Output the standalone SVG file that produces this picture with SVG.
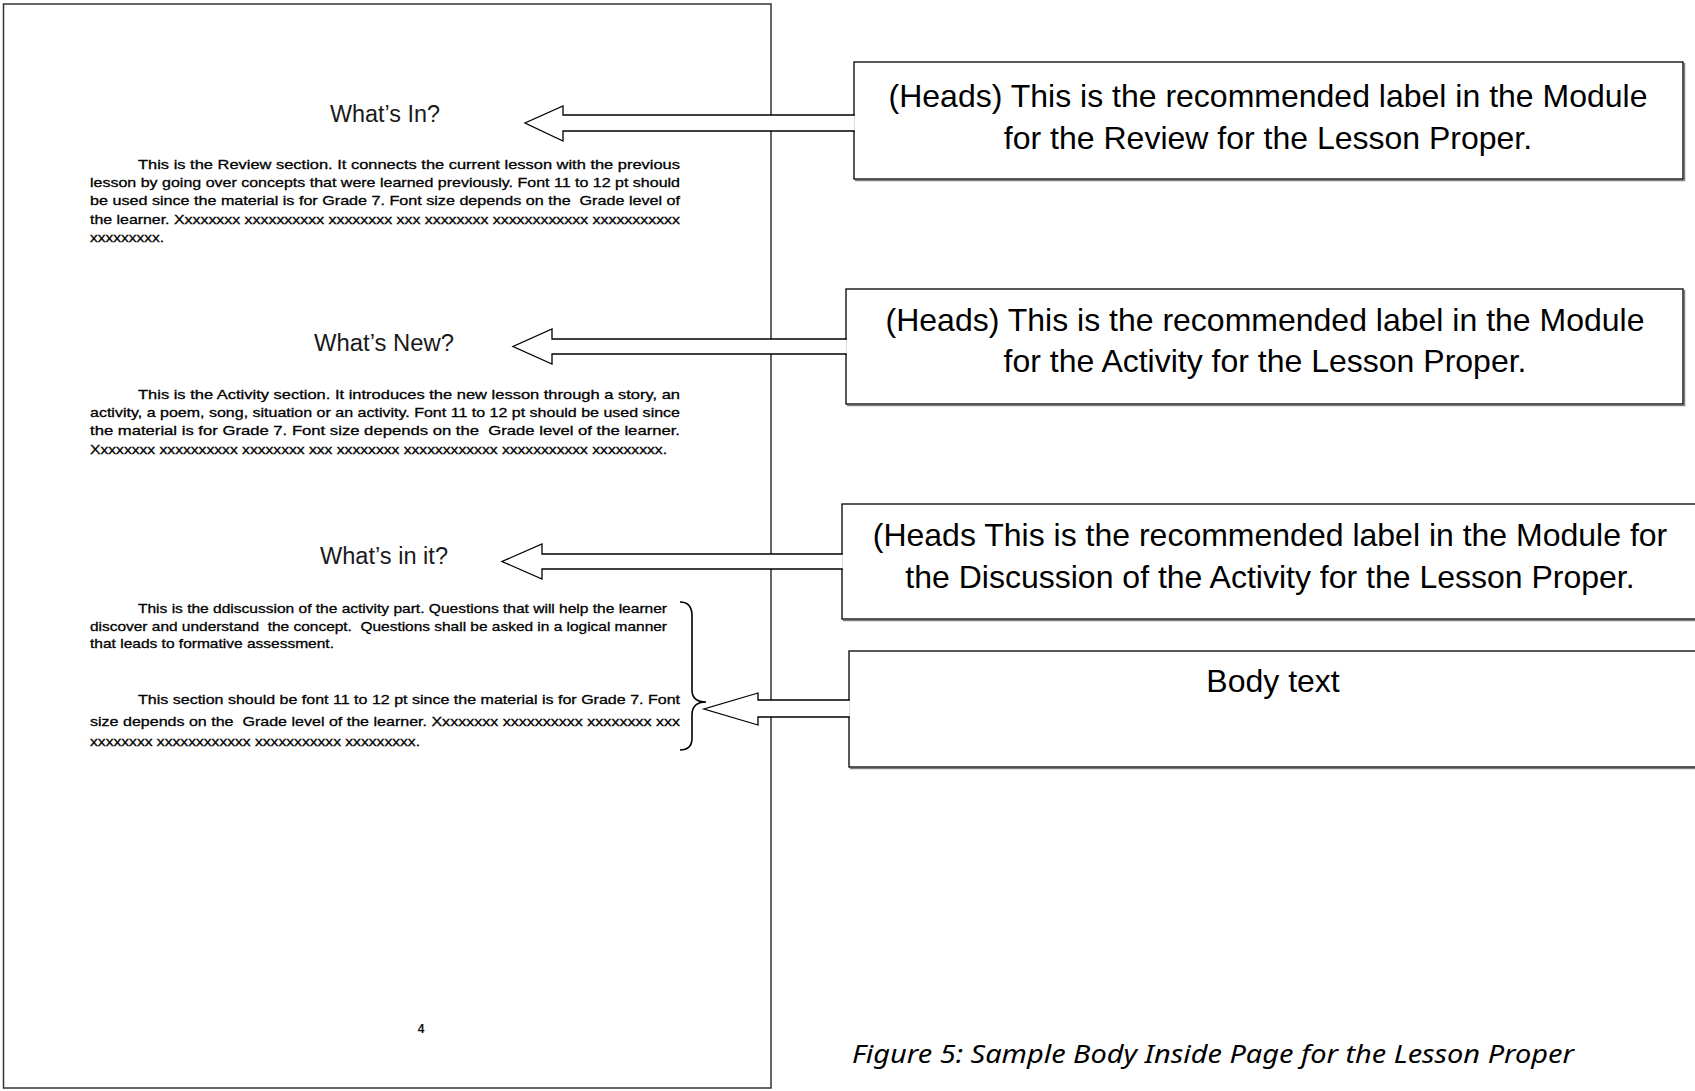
<svg xmlns="http://www.w3.org/2000/svg" width="1695" height="1091" viewBox="0 0 1695 1091">
<style>
.pg{fill:#fff;stroke:#333;stroke-width:1.5}
.shadow{fill:none;stroke:#808080;stroke-width:1.5}
.box{fill:#fff;stroke:#000;stroke-width:1.3}
.arrow{fill:#fff;stroke:#000;stroke-width:1.3;stroke-linejoin:miter}
.brace{fill:none;stroke:#000;stroke-width:1.6}
.head{font-family:"Liberation Sans",Arial,sans-serif;font-size:23px;fill:#1a1a1a;text-anchor:middle}
.body{font-family:"Liberation Sans",Arial,sans-serif;font-size:13.5px;fill:#000;stroke:#000;stroke-width:0.3;white-space:pre}
.lbl{font-family:"Liberation Sans",Arial,sans-serif;font-size:32px;fill:#000;text-anchor:middle}
.num{font-family:"Liberation Sans",Arial,sans-serif;font-size:12px;font-weight:bold;fill:#111;text-anchor:middle}
.cap{font-family:"Noto Sans","Open Sans",sans-serif;font-size:26px;font-style:italic;fill:#000}
</style>
<rect width="1695" height="1091" fill="#fff"/>
<g id="page">
<rect class="pg" x="3.5" y="4" width="767.5" height="1084"/>
<text class="num" x="421" y="1033">4</text>
</g>
<g id="head-whats-in"><text class="head" x="385" y="122" textLength="110" lengthAdjust="spacingAndGlyphs">What’s In?</text></g>
<g id="para-review">
<text class="body" x="138" y="169" textLength="542" lengthAdjust="spacingAndGlyphs">This is the Review section. It connects the current lesson with the previous</text>
<text class="body" x="90" y="187" textLength="590" lengthAdjust="spacingAndGlyphs">lesson by going over concepts that were learned previously. Font 11 to 12 pt should</text>
<text class="body" x="90" y="205" textLength="590" lengthAdjust="spacingAndGlyphs">be used since the material is for Grade 7. Font size depends on the  Grade level of</text>
<text class="body" x="90" y="224" textLength="590" lengthAdjust="spacingAndGlyphs">the learner. Xxxxxxxx xxxxxxxxxx xxxxxxxx xxx xxxxxxxx xxxxxxxxxxxx xxxxxxxxxxx</text>
<text class="body" x="90" y="242" textLength="74" lengthAdjust="spacingAndGlyphs">xxxxxxxxx.</text>
</g>
<g id="head-whats-new"><text class="head" x="384" y="351" textLength="140" lengthAdjust="spacingAndGlyphs">What’s New?</text></g>
<g id="para-activity">
<text class="body" x="138" y="399" textLength="542" lengthAdjust="spacingAndGlyphs">This is the Activity section. It introduces the new lesson through a story, an</text>
<text class="body" x="90" y="417" textLength="590" lengthAdjust="spacingAndGlyphs">activity, a poem, song, situation or an activity. Font 11 to 12 pt should be used since</text>
<text class="body" x="90" y="435" textLength="590" lengthAdjust="spacingAndGlyphs">the material is for Grade 7. Font size depends on the  Grade level of the learner.</text>
<text class="body" x="90" y="454" textLength="577" lengthAdjust="spacingAndGlyphs">Xxxxxxxx xxxxxxxxxx xxxxxxxx xxx xxxxxxxx xxxxxxxxxxxx xxxxxxxxxxx xxxxxxxxx.</text>
</g>
<g id="head-whats-in-it"><text class="head" x="384" y="564" textLength="128" lengthAdjust="spacingAndGlyphs">What’s in it?</text></g>
<g id="para-discussion">
<text class="body" x="138" y="613" textLength="529" lengthAdjust="spacingAndGlyphs">This is the ddiscussion of the activity part. Questions that will help the learner</text>
<text class="body" x="90" y="631" textLength="577" lengthAdjust="spacingAndGlyphs">discover and understand  the concept.  Questions shall be asked in a logical manner</text>
<text class="body" x="90" y="648" textLength="244" lengthAdjust="spacingAndGlyphs">that leads to formative assessment.</text>
</g>
<g id="para-section">
<text class="body" x="138" y="704" textLength="542" lengthAdjust="spacingAndGlyphs">This section should be font 11 to 12 pt since the material is for Grade 7. Font</text>
<text class="body" x="90" y="726" textLength="590" lengthAdjust="spacingAndGlyphs">size depends on the  Grade level of the learner. Xxxxxxxx xxxxxxxxxx xxxxxxxx xxx</text>
<text class="body" x="90" y="746" textLength="330" lengthAdjust="spacingAndGlyphs">xxxxxxxx xxxxxxxxxxxx xxxxxxxxxxx xxxxxxxxx.</text>
</g>
<g id="brace"><path class="brace" d="M680,602 C688,602 692,606 692,616 V690 C692,698 697,702 706,702 C697,702 692,706 692,715 V738 C692,746 688,750 680,750"/></g>
<g id="box-review">
<path class="shadow" d="M855,180.5 H1684.5 V63"/>
<rect class="box" x="854" y="62" width="829" height="117"/>
<text class="lbl" x="1268" y="107">(Heads) This is the recommended label in the Module</text>
<text class="lbl" x="1268" y="149">for the Review for the Lesson Proper.</text>
</g>
<g id="box-activity">
<path class="shadow" d="M847,405.5 H1684.5 V290"/>
<rect class="box" x="846" y="289" width="837" height="115"/>
<text class="lbl" x="1265" y="331">(Heads) This is the recommended label in the Module</text>
<text class="lbl" x="1265" y="372">for the Activity for the Lesson Proper.</text>
</g>
<g id="box-discussion">
<path class="shadow" d="M843,620.5 H1700"/>
<rect class="box" x="842" y="504" width="860" height="115"/>
<text class="lbl" x="1270" y="546">(Heads This is the recommended label in the Module for</text>
<text class="lbl" x="1270" y="588">the Discussion of the Activity for the Lesson Proper.</text>
</g>
<g id="box-body">
<path class="shadow" d="M850,768.5 H1700"/>
<rect class="box" x="849" y="651" width="853" height="116"/>
<text class="lbl" x="1273" y="692">Body text</text>
</g>
<g id="connectors">
<path class="arrow" d="M854.8,115 H563 V106 L525,123 L563,141 V131 H854.8"/>
<path class="arrow" d="M846.8,339 H552 V329 L513,346.5 L552,364 V354 H846.8"/>
<path class="arrow" d="M842.8,554 H542 V544 L502,561.5 L542,579 V569 H842.8"/>
<path class="arrow" d="M849.8,700 H758 V693 L704,709 L758,725 V717 H849.8"/>
</g>
<g id="caption"><text class="cap" x="852" y="1063" textLength="722" lengthAdjust="spacingAndGlyphs">Figure 5: Sample Body Inside Page for the Lesson Proper</text></g>
</svg>
